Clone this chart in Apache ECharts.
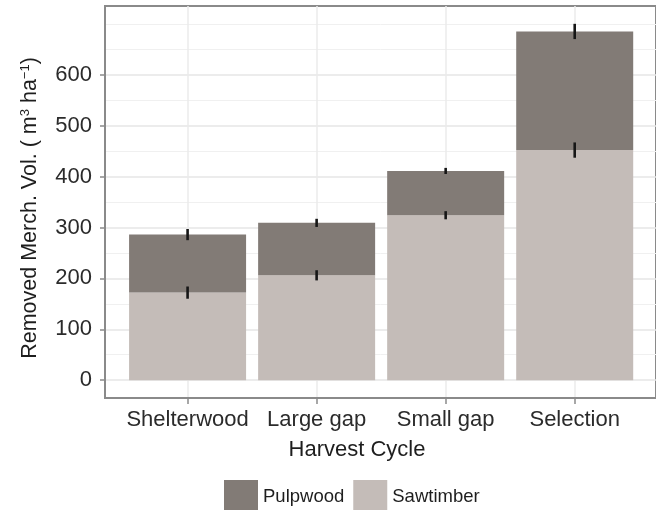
<!DOCTYPE html>
<html>
<head>
<meta charset="utf-8">
<script src="https://cdn.jsdelivr.net/npm/echarts@6/dist/echarts.min.js"></script>
<style>
html,body{margin:0;padding:0;background:#fff;}
#chart{width:656px;height:510px;}
</style>
</head>
<body>
<div id="chart"></div>
<script>
// ---- data ----
var categories = ['Shelterwood', 'Large gap', 'Small gap', 'Selection'];
var sawtimber = [172, 206, 324, 452];
var pulpwood = [114, 103, 87, 233];
var sawtimberErr = [12, 10, 8, 15];
var pulpwoodErr = [11, 8, 6, 15];
var yTickLabels = [0, 100, 200, 300, 400, 500, 600];
var yMinorBreaks = [50, 150, 250, 350, 450, 550, 650, 700];

// ---- build series data ----
var xPos = categories.map(function (c, i) { return i + 1; });
// value first (dimension 0 -> y, stacked), position second (dimension 1 -> x)
var sawData = sawtimber.map(function (v, i) { return [v, xPos[i]]; });
var pulpData = pulpwood.map(function (v, i) { return [v, xPos[i]]; });
var errData = [];
categories.forEach(function (c, i) {
  var s = sawtimber[i], t = sawtimber[i] + pulpwood[i];
  errData.push([xPos[i], s - sawtimberErr[i], s + sawtimberErr[i]]);
  errData.push([xPos[i], t - pulpwoodErr[i], t + pulpwoodErr[i]]);
});

var FONT = "'Liberation Sans', Arial, Helvetica, sans-serif";
var chart = echarts.init(document.getElementById('chart'), null, {renderer: 'canvas'});

chart.setOption({
  animation: false,
  backgroundColor: '#ffffff',
  textStyle: {fontFamily: FONT},
  grid: {
    left: 105, right: -4, top: 6, height: 392,
    show: true, borderColor: '#8a8a8a', borderWidth: 2, backgroundColor: '#ffffff',
    containLabel: false
  },
  legend: {
    left: 219, top: 475,
    itemWidth: 34, itemHeight: 34, itemGap: 9,
    icon: 'rect',
    data: ['Pulpwood', 'Sawtimber'],
    textStyle: {fontSize: 18.5, color: '#1e1e1e', fontFamily: FONT}
  },
  xAxis: [{
    type: 'value', min: 0.36, max: 4.63,
    axisLine: {show: true, onZero: false, lineStyle: {color: '#8a8a8a', width: 2}},
    axisTick: {show: true, length: 6, customValues: xPos, lineStyle: {color: '#8a8a8a', width: 1.5}},
    axisLabel: {
      show: true, customValues: xPos, margin: 11, fontSize: 22, color: '#2b2b2b', fontFamily: FONT,
      formatter: function (v) { return categories[Math.round(v) - 1] || ''; }
    },
    splitLine: {show: true, lineStyle: {color: '#ebebeb', width: 1.5}},
    name: 'Harvest Cycle', nameLocation: 'middle', nameGap: 41,
    nameTextStyle: {fontSize: 22, color: '#1e1e1e', fontFamily: FONT, padding: [0, 47, 0, 0]}
  }],
  yAxis: [{
    type: 'value', min: -35, max: 735,
    axisLine: {show: true, onZero: false, lineStyle: {color: '#8a8a8a', width: 2}},
    axisTick: {show: true, length: 5, customValues: yTickLabels, lineStyle: {color: '#8a8a8a', width: 1.5}},
    axisLabel: {show: true, customValues: yTickLabels, margin: 13, fontSize: 22, color: '#2b2b2b', fontFamily: FONT},
    splitLine: {show: true, lineStyle: {color: '#e6e6e6', width: 1.5}},
    name: 'Removed Merch. Vol. ( m{sup|3} ha{sup|\u22121})',
    nameLocation: 'middle', nameRotate: 90, nameGap: 64,
    nameTextStyle: {
      fontSize: 21.5, color: '#1e1e1e', fontFamily: FONT, padding: [0, 12, 0, 0],
      rich: {sup: {fontSize: 13, verticalAlign: 'top', color: '#1e1e1e', fontFamily: FONT}}
    }
  }, {
    type: 'value', min: -35, max: 735, position: 'left',
    axisLine: {show: false},
    axisTick: {show: false, customValues: yMinorBreaks},
    axisLabel: {show: false, customValues: yMinorBreaks},
    splitLine: {show: true, lineStyle: {color: '#f0f0f0', width: 1}}
  }],
  series: [{
    name: 'Sawtimber', type: 'bar', stack: 'vol', data: sawData,
    encode: {x: 1, y: 0},
    barWidth: 117, itemStyle: {color: '#c4bcb8'}, z: 2
  }, {
    name: 'Pulpwood', type: 'bar', stack: 'vol', data: pulpData,
    encode: {x: 1, y: 0},
    barWidth: 117, itemStyle: {color: '#827b76'}, z: 2
  }, {
    name: 'err', type: 'custom', data: errData, z: 5, silent: true,
    renderItem: function (params, api) {
      var x = api.value(0);
      var p1 = api.coord([x, api.value(1)]);
      var p2 = api.coord([x, api.value(2)]);
      return {type: 'line', shape: {x1: p1[0], y1: p1[1], x2: p2[0], y2: p2[1]},
        style: {stroke: '#161616', lineWidth: 2.6}};
    },
    encode: {x: 0, y: [1, 2]}
  }]
});
</script>
</body>
</html>
